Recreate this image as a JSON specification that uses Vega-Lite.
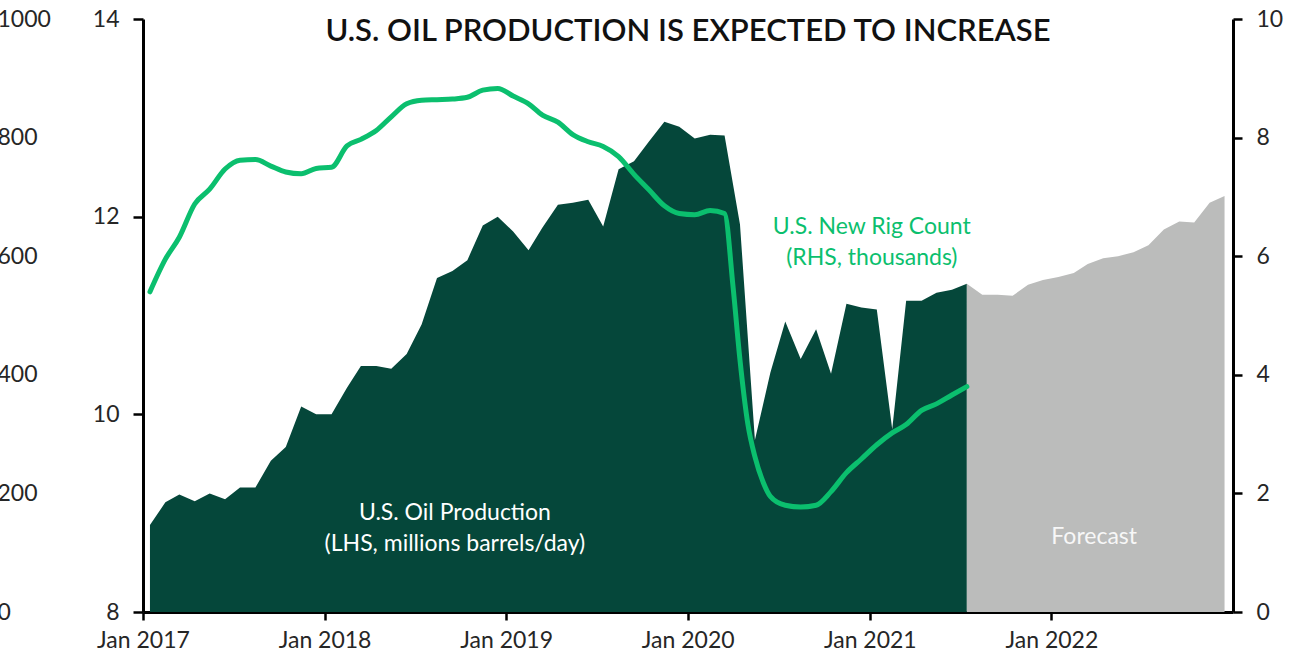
{
  "$schema": "https://vega.github.io/schema/vega-lite/v6.json",
  "width": 1090,
  "height": 593,
  "autosize": {"type": "none"},
  "padding": {"left": 143, "top": 19, "right": 59, "bottom": 44},
  "background": "white",
  "title": {
    "text": "U.S. OIL PRODUCTION IS EXPECTED TO INCREASE",
    "font": "Lato",
    "fontSize": 31,
    "fontWeight": 600,
    "color": "#111111",
    "anchor": "middle",
    "frame": "group",
    "baseline": "middle",
    "offset": -55
  },
  "config": {
    "view": {"stroke": null},
    "axis": {
      "labelFont": "Lato",
      "labelFontSize": 23,
      "labelColor": "#262626",
      "domainColor": "#000000",
      "domainWidth": 3,
      "tickColor": "#000000",
      "tickWidth": 2.5,
      "grid": false,
      "title": null
    },
    "text": {"font": "Lato"}
  },
  "datasets": {
    "production": [
      {"date": "2017-01-15", "prod": 8.88, "phase": "Historical"},
      {"date": "2017-02-15", "prod": 9.11, "phase": "Historical"},
      {"date": "2017-03-15", "prod": 9.19, "phase": "Historical"},
      {"date": "2017-04-15", "prod": 9.12, "phase": "Historical"},
      {"date": "2017-05-15", "prod": 9.20, "phase": "Historical"},
      {"date": "2017-06-15", "prod": 9.14, "phase": "Historical"},
      {"date": "2017-07-15", "prod": 9.26, "phase": "Historical"},
      {"date": "2017-08-15", "prod": 9.26, "phase": "Historical"},
      {"date": "2017-09-15", "prod": 9.53, "phase": "Historical"},
      {"date": "2017-10-15", "prod": 9.67, "phase": "Historical"},
      {"date": "2017-11-15", "prod": 10.08, "phase": "Historical"},
      {"date": "2017-12-15", "prod": 10.00, "phase": "Historical"},
      {"date": "2018-01-15", "prod": 10.00, "phase": "Historical"},
      {"date": "2018-02-15", "prod": 10.27, "phase": "Historical"},
      {"date": "2018-03-15", "prod": 10.49, "phase": "Historical"},
      {"date": "2018-04-15", "prod": 10.49, "phase": "Historical"},
      {"date": "2018-05-15", "prod": 10.46, "phase": "Historical"},
      {"date": "2018-06-15", "prod": 10.61, "phase": "Historical"},
      {"date": "2018-07-15", "prod": 10.91, "phase": "Historical"},
      {"date": "2018-08-15", "prod": 11.38, "phase": "Historical"},
      {"date": "2018-09-15", "prod": 11.45, "phase": "Historical"},
      {"date": "2018-10-15", "prod": 11.56, "phase": "Historical"},
      {"date": "2018-11-15", "prod": 11.91, "phase": "Historical"},
      {"date": "2018-12-15", "prod": 12.00, "phase": "Historical"},
      {"date": "2019-01-15", "prod": 11.85, "phase": "Historical"},
      {"date": "2019-02-15", "prod": 11.66, "phase": "Historical"},
      {"date": "2019-03-15", "prod": 11.89, "phase": "Historical"},
      {"date": "2019-04-15", "prod": 12.12, "phase": "Historical"},
      {"date": "2019-05-15", "prod": 12.14, "phase": "Historical"},
      {"date": "2019-06-15", "prod": 12.17, "phase": "Historical"},
      {"date": "2019-07-15", "prod": 11.90, "phase": "Historical"},
      {"date": "2019-08-15", "prod": 12.48, "phase": "Historical"},
      {"date": "2019-09-15", "prod": 12.56, "phase": "Historical"},
      {"date": "2019-10-15", "prod": 12.76, "phase": "Historical"},
      {"date": "2019-11-15", "prod": 12.96, "phase": "Historical"},
      {"date": "2019-12-15", "prod": 12.91, "phase": "Historical"},
      {"date": "2020-01-15", "prod": 12.79, "phase": "Historical"},
      {"date": "2020-02-15", "prod": 12.83, "phase": "Historical"},
      {"date": "2020-03-15", "prod": 12.82, "phase": "Historical"},
      {"date": "2020-04-15", "prod": 11.92, "phase": "Historical"},
      {"date": "2020-05-15", "prod": 9.74, "phase": "Historical"},
      {"date": "2020-06-15", "prod": 10.42, "phase": "Historical"},
      {"date": "2020-07-15", "prod": 10.94, "phase": "Historical"},
      {"date": "2020-08-15", "prod": 10.56, "phase": "Historical"},
      {"date": "2020-09-15", "prod": 10.86, "phase": "Historical"},
      {"date": "2020-10-15", "prod": 10.41, "phase": "Historical"},
      {"date": "2020-11-15", "prod": 11.12, "phase": "Historical"},
      {"date": "2020-12-15", "prod": 11.08, "phase": "Historical"},
      {"date": "2021-01-15", "prod": 11.06, "phase": "Historical"},
      {"date": "2021-02-15", "prod": 9.85, "phase": "Historical"},
      {"date": "2021-03-15", "prod": 11.15, "phase": "Historical"},
      {"date": "2021-04-15", "prod": 11.15, "phase": "Historical"},
      {"date": "2021-05-15", "prod": 11.23, "phase": "Historical"},
      {"date": "2021-06-15", "prod": 11.26, "phase": "Historical"},
      {"date": "2021-07-15", "prod": 11.32, "phase": "Historical"},
      {"date": "2021-07-15", "prod": 11.32, "phase": "Forecast"},
      {"date": "2021-08-15", "prod": 11.21, "phase": "Forecast"},
      {"date": "2021-09-15", "prod": 11.21, "phase": "Forecast"},
      {"date": "2021-10-15", "prod": 11.20, "phase": "Forecast"},
      {"date": "2021-11-15", "prod": 11.31, "phase": "Forecast"},
      {"date": "2021-12-15", "prod": 11.36, "phase": "Forecast"},
      {"date": "2022-01-15", "prod": 11.39, "phase": "Forecast"},
      {"date": "2022-02-15", "prod": 11.43, "phase": "Forecast"},
      {"date": "2022-03-15", "prod": 11.52, "phase": "Forecast"},
      {"date": "2022-04-15", "prod": 11.58, "phase": "Forecast"},
      {"date": "2022-05-15", "prod": 11.60, "phase": "Forecast"},
      {"date": "2022-06-15", "prod": 11.64, "phase": "Forecast"},
      {"date": "2022-07-15", "prod": 11.71, "phase": "Forecast"},
      {"date": "2022-08-15", "prod": 11.87, "phase": "Forecast"},
      {"date": "2022-09-15", "prod": 11.95, "phase": "Forecast"},
      {"date": "2022-10-15", "prod": 11.94, "phase": "Forecast"},
      {"date": "2022-11-15", "prod": 12.14, "phase": "Forecast"},
      {"date": "2022-12-15", "prod": 12.21, "phase": "Forecast"}
    ],
    "rigs": [
      {"date": "2017-01-15", "rigs": 5.40},
      {"date": "2017-02-15", "rigs": 5.95},
      {"date": "2017-03-15", "rigs": 6.32},
      {"date": "2017-04-15", "rigs": 6.88},
      {"date": "2017-05-15", "rigs": 7.13},
      {"date": "2017-06-15", "rigs": 7.47},
      {"date": "2017-07-15", "rigs": 7.62},
      {"date": "2017-08-15", "rigs": 7.63},
      {"date": "2017-09-15", "rigs": 7.52},
      {"date": "2017-10-15", "rigs": 7.42},
      {"date": "2017-11-15", "rigs": 7.39},
      {"date": "2017-12-15", "rigs": 7.48},
      {"date": "2018-01-15", "rigs": 7.50},
      {"date": "2018-02-15", "rigs": 7.86},
      {"date": "2018-03-15", "rigs": 7.97},
      {"date": "2018-04-15", "rigs": 8.12},
      {"date": "2018-05-15", "rigs": 8.35},
      {"date": "2018-06-15", "rigs": 8.57},
      {"date": "2018-07-15", "rigs": 8.63},
      {"date": "2018-08-15", "rigs": 8.64},
      {"date": "2018-09-15", "rigs": 8.65},
      {"date": "2018-10-15", "rigs": 8.68},
      {"date": "2018-11-15", "rigs": 8.80},
      {"date": "2018-12-15", "rigs": 8.83},
      {"date": "2019-01-15", "rigs": 8.70},
      {"date": "2019-02-15", "rigs": 8.57},
      {"date": "2019-03-15", "rigs": 8.38},
      {"date": "2019-04-15", "rigs": 8.26},
      {"date": "2019-05-15", "rigs": 8.05},
      {"date": "2019-06-15", "rigs": 7.93},
      {"date": "2019-07-15", "rigs": 7.85},
      {"date": "2019-08-15", "rigs": 7.68},
      {"date": "2019-09-15", "rigs": 7.38},
      {"date": "2019-10-15", "rigs": 7.12},
      {"date": "2019-11-15", "rigs": 6.85},
      {"date": "2019-12-15", "rigs": 6.72},
      {"date": "2020-01-15", "rigs": 6.70},
      {"date": "2020-02-15", "rigs": 6.77},
      {"date": "2020-03-15", "rigs": 6.72},
      {"date": "2020-04-01", "rigs": 5.49},
      {"date": "2020-04-15", "rigs": 4.25},
      {"date": "2020-05-01", "rigs": 3.16},
      {"date": "2020-05-15", "rigs": 2.62},
      {"date": "2020-06-01", "rigs": 2.18},
      {"date": "2020-06-15", "rigs": 1.95},
      {"date": "2020-07-15", "rigs": 1.80},
      {"date": "2020-08-15", "rigs": 1.77},
      {"date": "2020-09-15", "rigs": 1.80},
      {"date": "2020-10-15", "rigs": 2.03},
      {"date": "2020-11-15", "rigs": 2.35},
      {"date": "2020-12-15", "rigs": 2.58},
      {"date": "2021-01-15", "rigs": 2.82},
      {"date": "2021-02-15", "rigs": 3.02},
      {"date": "2021-03-15", "rigs": 3.16},
      {"date": "2021-04-15", "rigs": 3.40},
      {"date": "2021-05-15", "rigs": 3.51},
      {"date": "2021-06-15", "rigs": 3.66},
      {"date": "2021-07-15", "rigs": 3.80}
    ],
    "labels": [
      {"date": "2018-09-20", "value": 9.0, "label": "U.S. Oil Production\n(LHS, millions barrels/day)", "kind": "prod"},
      {"date": "2021-01-05", "value": 11.9, "label": "U.S. New Rig Count\n(RHS, thousands)", "kind": "rig"},
      {"date": "2022-03-28", "value": 8.76, "label": "Forecast", "kind": "forecast"}
    ]
  },
  "encoding": {
    "x": {
      "field": "date",
      "type": "temporal",
      "scale": {"domain": [{"year": 2017, "month": 1, "date": 1}, {"year": 2023, "month": 1, "date": 1}]},
      "axis": {
        "orient": "bottom",
        "values": [
          {"year": 2017, "month": 1, "date": 1},
          {"year": 2018, "month": 1, "date": 1},
          {"year": 2019, "month": 1, "date": 1},
          {"year": 2020, "month": 1, "date": 1},
          {"year": 2021, "month": 1, "date": 1},
          {"year": 2022, "month": 1, "date": 1}
        ],
        "format": "%b %Y",
        "tickSize": 8,
        "labelPadding": 9,
        "labelFlush": false,
        "labelOverlap": false
      }
    }
  },
  "layer": [
    {
      "data": {"name": "production"},
      "mark": {"type": "area", "interpolate": "linear"},
      "encoding": {
        "y": {
          "field": "prod",
          "type": "quantitative",
          "stack": null,
          "scale": {"domain": [8, 14], "zero": false, "nice": false},
          "axis": {"orient": "left", "values": [8, 10, 12, 14], "tickSize": 10, "labelPadding": 14}
        },
        "y2": {"datum": 8},
        "color": {
          "field": "phase",
          "type": "nominal",
          "scale": {"domain": ["Historical", "Forecast"], "range": ["#05473a", "#bbbcbb"]},
          "legend": null
        }
      }
    },
    {
      "data": {"name": "rigs"},
      "mark": {"type": "point", "opacity": 0},
      "encoding": {
        "y": {
          "field": "rigs",
          "type": "quantitative",
          "scale": {"domain": [0, 1000], "nice": false},
          "axis": {
            "orient": "left",
            "values": [0, 200, 400, 600, 800, 1000],
            "format": "d",
            "offset": 146,
            "domain": false,
            "ticks": false,
            "tickSize": 0,
            "labelPadding": 0,
            "labelAlign": "left"
          }
        }
      }
    },
    {
      "data": {"name": "labels"},
      "transform": [{"filter": "datum.kind === 'prod'"}],
      "mark": {"type": "text", "fontSize": 23, "lineBreak": "\n", "lineHeight": 31, "color": "#ffffff", "align": "center", "baseline": "middle"},
      "encoding": {
        "y": {"field": "value", "type": "quantitative", "scale": {"domain": [8, 14], "zero": false, "nice": false}, "axis": null},
        "text": {"field": "label"}
      }
    },
    {
      "data": {"name": "labels"},
      "transform": [{"filter": "datum.kind === 'rig'"}],
      "mark": {"type": "text", "fontSize": 23, "lineBreak": "\n", "lineHeight": 31, "color": "#0bbf6e", "align": "center", "baseline": "middle"},
      "encoding": {
        "y": {"field": "value", "type": "quantitative", "scale": {"domain": [8, 14], "zero": false, "nice": false}, "axis": null},
        "text": {"field": "label"}
      }
    },
    {
      "data": {"name": "labels"},
      "transform": [{"filter": "datum.kind === 'forecast'"}],
      "mark": {"type": "text", "fontSize": 23, "color": "#f7f7f7", "align": "center", "baseline": "middle"},
      "encoding": {
        "y": {"field": "value", "type": "quantitative", "scale": {"domain": [8, 14], "zero": false, "nice": false}, "axis": null},
        "text": {"field": "label"}
      }
    },
    {
      "data": {"name": "rigs"},
      "mark": {"type": "line", "interpolate": "monotone", "color": "#0bbf6e", "strokeWidth": 5, "strokeCap": "round", "strokeJoin": "round"},
      "encoding": {
        "y": {
          "field": "rigs",
          "type": "quantitative",
          "scale": {"domain": [0, 10], "nice": false},
          "axis": {"orient": "right", "values": [0, 2, 4, 6, 8, 10], "tickSize": 9, "labelPadding": 14}
        }
      }
    }
  ],
  "resolve": {"scale": {"y": "independent"}, "axis": {"y": "independent"}}
}
